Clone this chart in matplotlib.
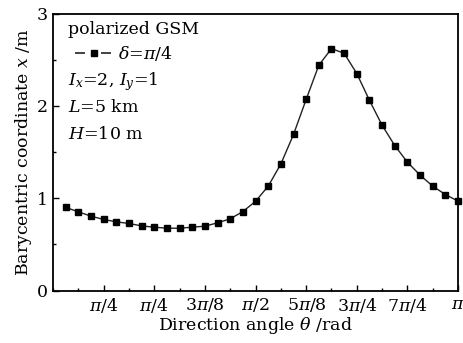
import numpy as np
import matplotlib
matplotlib.use("Agg")
import matplotlib.pyplot as plt
from matplotlib.ticker import MultipleLocator
from matplotlib.lines import Line2D

plt.rcParams['font.family'] = ['DejaVu Serif']
plt.rcParams['mathtext.fontset'] = 'dejavuserif'

# data: theta = k*pi/32, k = 1..32
k_index = list(range(1, 33))
x_values = [0.90, 0.853, 0.805, 0.77, 0.744, 0.726, 0.70, 0.686, 0.675, 0.675,
            0.686, 0.697, 0.733, 0.777, 0.855, 0.966, 1.13, 1.37, 1.69, 2.07,
            2.44, 2.62, 2.57, 2.35, 2.06, 1.79, 1.57, 1.39, 1.25, 1.13,
            1.04, 0.968]
xtick_labels = [r'$\pi$/4', r'$\pi$/4', r'3$\pi$/8', r'$\pi$/2', r'5$\pi$/8',
                r'3$\pi$/4', r'7$\pi$/4', r'$\pi$']
ytick_vals = [0, 1, 2, 3]

theta = np.array(k_index) * np.pi / 32

fig = plt.figure(figsize=(4.64, 3.43), dpi=100)
ax = fig.add_axes([0.1142, 0.153, 0.873, 0.8075])

ax.plot(theta, x_values, '-', color='#222222', lw=1.0,
        marker='s', markersize=4.5, markerfacecolor='black',
        markeredgecolor='black', clip_on=False, zorder=3)

ax.set_xlim(0, np.pi)
ax.set_ylim(0, 3)
ax.set_xticks(np.arange(1, 9) * np.pi / 8)
ax.set_xticklabels(xtick_labels)
ax.xaxis.set_minor_locator(MultipleLocator(np.pi / 16))
ax.set_yticks(ytick_vals)
ax.yaxis.set_minor_locator(MultipleLocator(0.5))
ax.tick_params(which='both', direction='in', labelsize=12.5, width=1)
ax.tick_params(which='major', length=4)
ax.tick_params(which='minor', length=2.5)
ax.tick_params(axis='x', pad=4)
for s in ax.spines.values():
    s.set_linewidth(1.3)

fs = 12.5
ax.set_xlabel(r'Direction angle $\theta$ /rad', fontsize=fs, labelpad=0)
ax.set_ylabel(r'Barycentric coordinate $x$ /m', fontsize=fs, labelpad=2)

ax.text(0.037, 0.944, 'polarized GSM', transform=ax.transAxes, fontsize=fs,
        va='center', ha='left')
proxy = Line2D([], [], color='#222222', lw=1.2, linestyle=(0, (6.0, 9.6)),
               marker='s', markersize=3.8, markerfacecolor='black',
               markeredgecolor='black')
ax.legend([proxy], [r'$\delta$=$\pi$/4'], loc='center left',
          bbox_to_anchor=(0.054, 0.857), frameon=False, fontsize=fs,
          handlelength=2.19, handletextpad=0.3, borderaxespad=0, borderpad=0)
ax.text(0.037, 0.756, r'$I_x$=2, $I_y$=1', transform=ax.transAxes, fontsize=fs,
        va='center', ha='left')
ax.text(0.037, 0.662, r'$L$=5 km', transform=ax.transAxes, fontsize=fs,
        va='center', ha='left')
ax.text(0.037, 0.565, r'$H$=10 m', transform=ax.transAxes, fontsize=fs,
        va='center', ha='left')

fig.savefig('out.png', dpi=100)
